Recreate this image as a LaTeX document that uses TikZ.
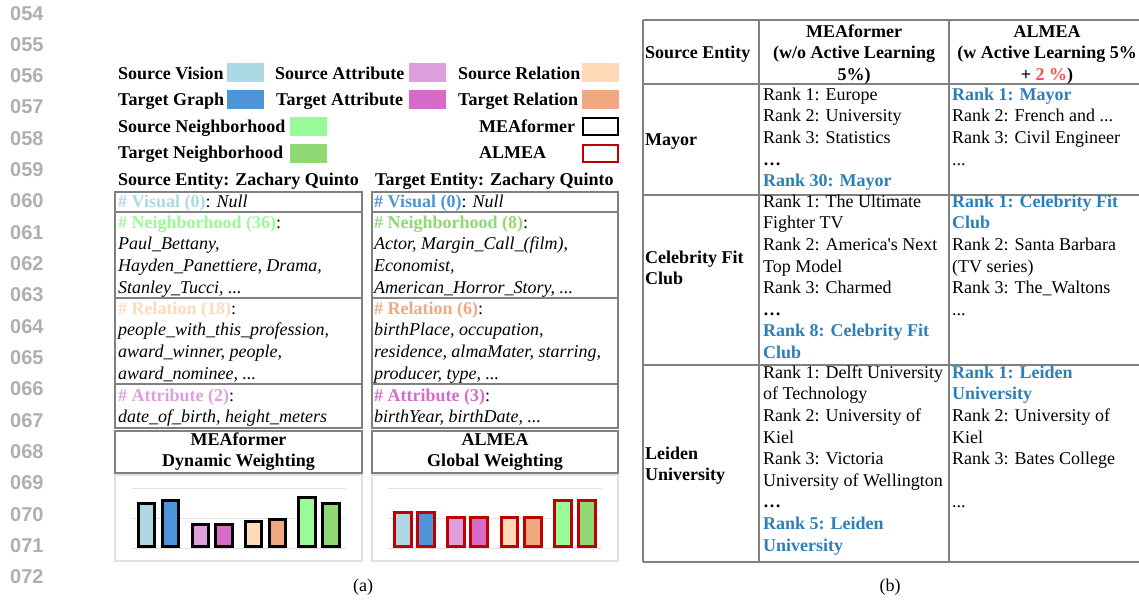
\documentclass[tikz,border=0pt]{standalone}
\usepackage{fontspec}
\setmainfont{Liberation Serif}
\newfontfamily\lnfont{Liberation Sans}
\usepackage{xcolor}
\usepackage{tikz}
\usetikzlibrary{positioning}
\definecolor{SrcVis}{RGB}{173,216,230}
\definecolor{TgtGraph}{RGB}{79,148,217}
\definecolor{SrcAttr}{RGB}{221,160,221}
\definecolor{TgtAttr}{RGB}{215,108,200}
\definecolor{SrcRel}{RGB}{255,218,185}
\definecolor{TgtRel}{RGB}{240,168,128}
\definecolor{SrcNb}{RGB}{152,251,152}
\definecolor{TgtNb}{RGB}{144,216,115}
\definecolor{AlmeaRed}{RGB}{192,0,0}
\definecolor{RankBlue}{RGB}{43,128,186}
\definecolor{PlusRed}{RGB}{250,80,70}
\definecolor{TabGray}{RGB}{128,128,128}
\definecolor{BoxGray}{RGB}{225,225,225}
\definecolor{LnGray}{RGB}{175,175,175}

\begin{document}
\begin{tikzpicture}[x=1pt,y=-1pt,font=\fontsize{18}{21.6}\selectfont]
					\tikzset{
						t/.style={anchor=north west, inner sep=0pt, align=left},
						tc/.style={anchor=north, inner sep=0pt, align=center},
						sw/.style={minimum width=37pt, minimum height=19pt, inner sep=0pt},
						tab/.style={draw=TabGray, line width=1.3pt},
						chartbox/.style={draw=BoxGray, line width=1.5pt},
						gl/.style={draw=BoxGray, line width=1pt},
						mbar/.style={draw=black, line width=3pt},
						abar/.style={draw=AlmeaRed, line width=3pt},
						ln/.style={anchor=base west, inner sep=0pt, text=LnGray,
							font=\lnfont\bfseries\fontsize{20}{20}\selectfont}
					}
					% first line of a text node: its baseline 15.12pt under the node's top
					\newcommand{\fl}{\strut}
					\useasboundingbox (0,0) rectangle (1139,600);
					
					% line numbers
					\foreach \i in {0,...,18}
						\node[ln] (ln\i) at (10, {20+31.33*\i}) {0\the\numexpr54+\i\relax};
					
					% legend
					\node[t] (lSV) at (118,63.88) {\fl\textbf{Source Vision}};
					\node[sw, fill=SrcVis] (kSV) at (245,72.5) {};
					\node[t] (lSA) at (275,63.88) {\fl\textbf{Source Attribute}};
					\node[sw, fill=SrcAttr] (kSA) at (427.5,72.5) {};
					\node[t] (lSR) at (458,63.88) {\fl\textbf{Source Relation}};
					\node[sw, fill=SrcRel] (kSR) at (600.5,72.5) {};
					\node[t] (lTG) at (118,90.38) {\fl\textbf{Target Graph}};
					\node[sw, fill=TgtGraph] (kTG) at (245,99.5) {};
					\node[t] (lTA) at (276,90.38) {\fl\textbf{Target Attribute}};
					\node[sw, fill=TgtAttr] (kTA) at (427.5,99.5) {};
					\node[t] (lTR) at (458,90.38) {\fl\textbf{Target Relation}};
					\node[sw, fill=TgtRel] (kTR) at (600.5,99.5) {};
					\node[t] (lSN) at (118,116.88) {\fl\textbf{Source Neighborhood}};
					\node[sw, fill=SrcNb] (kSN) at (308.5,126.5) {};
					\node[t] (lTN) at (118,143.38) {\fl\textbf{Target Neighborhood}};
					\node[sw, fill=TgtNb] (kTN) at (308.5,153.5) {};
					\node[t] (lMEA) at (479,116.88) {\fl\textbf{MEAformer}};
					\node[draw=black, line width=2.5pt, minimum width=35pt, minimum height=17pt] (kMEA) at (600.5,126.5) {};
					\node[t] (lAL) at (479,143.38) {\fl\textbf{ALMEA}};
					\node[draw=AlmeaRed, line width=2.5pt, minimum width=35pt, minimum height=17pt] (kAL) at (600.5,153.5) {};
					
					% source entity card
					\node[t] (srcHead) at (118,169.88) {\fl\textbf{Source Entity: Zachary Quinto}};
					\draw[tab] (115,192) rectangle (362,428);
					\draw[tab] (115,212) -- (362,212) (115,298) -- (362,298) (115,384) -- (362,384);
					\node[t] (srcVis) at (118,191.88) {\fl\textbf{\color{SrcVis}\# Visual (0)}: \textit{Null}};
					\node[t] (srcNb) at (118,212.88) {\fl\textbf{\color{SrcNb}\# Neighborhood (36)}:\\
						\textit{Paul\_Bettany,}\\ \textit{Hayden\_Panettiere, Drama,}\\ \textit{Stanley\_Tucci, ...}};
					\node[t] (srcRel) at (118,298.88) {\fl\textbf{\color{SrcRel}\# Relation (18)}:\\
						\textit{people\_with\_this\_profession,}\\ \textit{award\_winner, people,}\\ \textit{award\_nominee, ...}};
					\node[t] (srcAttr) at (118,385.88) {\fl\textbf{\color{SrcAttr}\# Attribute (2)}:\\
						\textit{date\_of\_birth, height\_meters}};
					
					% target entity card
					\node[t] (tgtHead) at (375,169.88) {\fl\textbf{Target Entity: Zachary Quinto}};
					\draw[tab] (372,192) rectangle (618,428);
					\draw[tab] (372,212) -- (618,212) (372,298) -- (618,298) (372,384) -- (618,384);
					\node[t] (tgtVis) at (374,191.88) {\fl\textbf{\color{TgtGraph}\# Visual (0)}: \textit{Null}};
					\node[t] (tgtNb) at (374,212.88) {\fl\textbf{\color{TgtNb}\# Neighborhood (8)}:\\
						\textit{Actor, Margin\_Call\_(film),}\\ \textit{Economist,}\\ \textit{American\_Horror\_Story, ...}};
					\node[t] (tgtRel) at (374,298.88) {\fl\textbf{\color{TgtRel}\# Relation (6)}:\\
						\textit{birthPlace, occupation,}\\ \textit{residence, almaMater, starring,}\\ \textit{producer, type, ...}};
					\node[t] (tgtAttr) at (374,385.88) {\fl\textbf{\color{TgtAttr}\# Attribute (3)}:\\
						\textit{birthYear, birthDate, ...}};
					
					% weighting titles
					\draw[tab] (115,431) rectangle (362,473);
					\node[tc] (wMEA) at (238.5,429.88) {\fl\textbf{MEAformer}\\ \textbf{Dynamic Weighting}};
					\draw[tab] (372,431) rectangle (618,473);
					\node[tc] (wAL) at (495,429.88) {\fl\textbf{ALMEA}\\ \textbf{Global Weighting}};
					
					% weight charts
					\draw[chartbox] (115,475) rectangle (362,561);
					\draw[gl] (132,488) -- (346,488) (132,518) -- (346,518) (132,548) -- (346,548);
					\draw[mbar, fill=SrcVis] (138.5,546.5) rectangle (154.5,503.5);
					\draw[mbar, fill=TgtGraph] (162.5,546.5) rectangle (178.5,500.5);
					\draw[mbar, fill=SrcAttr] (192.5,546.5) rectangle (208.5,524.5);
					\draw[mbar, fill=TgtAttr] (215.5,546.5) rectangle (232.5,524.5);
					\draw[mbar, fill=SrcRel] (245.5,546.5) rectangle (261.5,521.5);
					\draw[mbar, fill=TgtRel] (269.5,546.5) rectangle (285.5,519.5);
					\draw[mbar, fill=SrcNb] (298.5,546.5) rectangle (315.5,497.5);
					\draw[mbar, fill=TgtNb] (322.5,546.5) rectangle (339.5,503.5);
					
					\draw[chartbox] (372,475) rectangle (618,561);
					\draw[gl] (388,488) -- (602,488) (388,518) -- (602,518) (388,548) -- (602,548);
					\draw[abar, fill=SrcVis] (394.5,546.5) rectangle (411.5,512.5);
					\draw[abar, fill=TgtGraph] (417.5,546.5) rectangle (434.5,512.5);
					\draw[abar, fill=SrcAttr] (447.5,546.5) rectangle (464.5,517.5);
					\draw[abar, fill=TgtAttr] (470.5,546.5) rectangle (487.5,517.5);
					\draw[abar, fill=SrcRel] (501.5,546.5) rectangle (517.5,517.5);
					\draw[abar, fill=TgtRel] (524.5,546.5) rectangle (541.5,517.5);
					\draw[abar, fill=SrcNb] (554.5,546.5) rectangle (571.5,500.5);
					\draw[abar, fill=TgtNb] (578.5,546.5) rectangle (595.5,500.5);
					
					\node[tc] (capA) at (363,575.88) {\fl(a)};
					
					% rank table
					\draw[tab] (643,20) -- (1145,20) (643,84) -- (1145,84) (643,195) -- (1145,195)
						(643,365) -- (1145,365) (643,562) -- (1145,562);
					\draw[tab] (643,20) -- (643,562) (759,20) -- (759,562) (949,20) -- (949,562);
					\node[t] (hSrc) at (645,42.88) {\fl\textbf{Source Entity}};
					\node[tc] (hMEA) at (854,21.88) {\fl\textbf{MEAformer}\\ \textbf{(w/o Active Learning}\\ \textbf{5\%)}};
					\node[tc] (hAL) at (1047,21.88) {\fl\textbf{ALMEA}\\ \textbf{(w Active Learning 5\%}\\
						\textbf{+ \textcolor{PlusRed}{2 \%})}};
					
					\node[t] (eMayor) at (645,129.88) {\fl\textbf{Mayor}};
					\node[t] (mMayor) at (763,84.88) {\fl Rank 1: Europe\\ Rank 2: University\\ Rank 3: Statistics\\
						\textbf{\dots}\\ \textbf{\color{RankBlue}Rank 30: Mayor}};
					\node[t] (aMayor) at (952,84.88) {\fl\textbf{\color{RankBlue}Rank 1: Mayor}\\ Rank 2: French and ...\\
						Rank 3: Civil Engineer\\ ...};
					
					\node[t] (eClub) at (645,247.88) {\fl\textbf{Celebrity Fit}\\ \textbf{Club}};
					\node[t] (mClub) at (763,191.88) {\fl Rank 1: The Ultimate\\ Fighter TV\\ Rank 2: America\textquotesingle s Next\\
						Top Model\\ Rank 3: Charmed\\ \textbf{\dots}\\ \textbf{\color{RankBlue}Rank 8: Celebrity Fit}\\
						\textbf{\color{RankBlue}Club}};
					\node[t] (aClub) at (952,191.88) {\fl\textbf{\color{RankBlue}Rank 1: Celebrity Fit}\\
						\textbf{\color{RankBlue}Club}\\ Rank 2: Santa Barbara\\ (TV series)\\ Rank 3: The\_Waltons\\ ...};
					
					\node[t] (eLeiden) at (645,443.88) {\fl\textbf{Leiden}\\ \textbf{University}};
					\node[t] (mLeiden) at (763,362.88) {\fl Rank 1: Delft University\\ of Technology\\ Rank 2: University of\\
						Kiel\\ Rank 3: Victoria\\ University of Wellington\\ \textbf{\dots}\\
						\textbf{\color{RankBlue}Rank 5: Leiden}\\ \textbf{\color{RankBlue}University}};
					\node[t] (aLeiden) at (952,362.88) {\fl\textbf{\color{RankBlue}Rank 1: Leiden}\\
						\textbf{\color{RankBlue}University}\\ Rank 2: University of\\ Kiel\\ Rank 3: Bates College\\
						\\ ...};
					
					\node[tc] (capB) at (890,575.88) {\fl(b)};
				\end{tikzpicture}
\end{document}
